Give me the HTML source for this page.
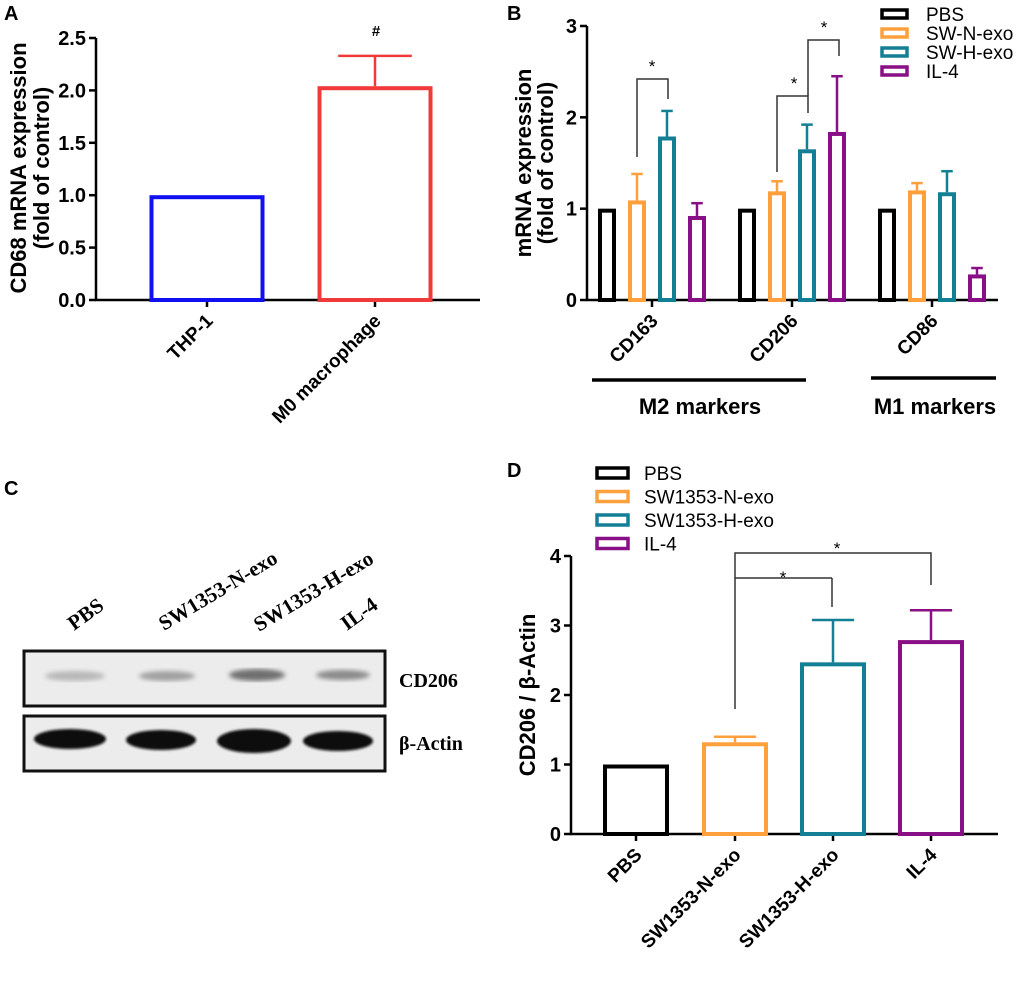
<!DOCTYPE html>
<html><head><meta charset="utf-8"><style>
html,body{margin:0;padding:0;background:#fff;}
svg{display:block;font-family:"Liberation Sans",Arial,sans-serif;}
.tk{font-weight:bold;font-size:20px;}
.xk{font-weight:bold;font-size:19px;}
.ti{font-weight:bold;font-size:22px;}
.pl{font-weight:bold;font-size:20px;}
.lg{font-size:19px;}
.sf{font-family:"Liberation Serif",serif;font-weight:bold;}
</style></head><body>
<svg id="fig" width="1020" height="982" viewBox="0 0 1020 982" xmlns="http://www.w3.org/2000/svg">
<defs>
<filter id="blur1"><feGaussianBlur stdDeviation="2.5"/></filter>
<filter id="blur2"><feGaussianBlur stdDeviation="1.2"/></filter>
</defs>
<text class="pl" x="4" y="20">A</text>
<text class="pl" x="507" y="20">B</text>
<text class="pl" x="4" y="495">C</text>
<text class="pl" x="507" y="477">D</text>

<g id="pa"></g>
<g id="pb"></g>
<g id="pd"></g>

<g>
  <text class="sf" font-size="21" transform="translate(74,631) rotate(-36)">PBS</text>
  <text class="sf" font-size="21" transform="translate(164,631) rotate(-31)">SW1353-N-exo</text>
  <text class="sf" font-size="21" transform="translate(259,632) rotate(-31)">SW1353-H-exo</text>
  <text class="sf" font-size="21" transform="translate(347,631) rotate(-36)">IL-4</text>
  <rect x="24" y="651" width="361" height="55" fill="#ececec" stroke="#111" stroke-width="3"/>
  <g filter="url(#blur1)">
    <ellipse cx="75" cy="676" rx="30" ry="5" fill="#b8b8b8"/>
    <ellipse cx="167" cy="676" rx="28" ry="5" fill="#a0a0a0"/>
    <ellipse cx="257" cy="675" rx="28" ry="6" fill="#707070"/>
    <ellipse cx="343" cy="675" rx="27" ry="5" fill="#8a8a8a"/>
  </g>
  <rect x="24" y="716" width="361" height="55" fill="#ececec" stroke="#111" stroke-width="3"/>
  <g filter="url(#blur2)">
    <ellipse cx="70" cy="739" rx="36" ry="10" fill="#111"/>
    <ellipse cx="161" cy="740" rx="35" ry="10" fill="#111"/>
    <ellipse cx="254" cy="741" rx="37" ry="12" fill="#111"/>
    <ellipse cx="338" cy="741" rx="35" ry="10" fill="#111"/>
  </g>
  <text class="sf" font-size="20" x="399" y="687">CD206</text>
  <text class="sf" font-size="20" x="399" y="750">β-Actin</text>
</g>
</svg>
<script>
// ---------- Panel A data ----------
const aCategories = ["THP-1", "M0 macrophage"];
const aValues = [1.0, 2.04];
const aErrors = [0, 0.29];
const aTicks = ["0.0","0.5","1.0","1.5","2.0","2.5"];
// ---------- Panel B data ----------
const bGroups = ["CD163", "CD206", "CD86"];
const bSeries = ["PBS", "SW-N-exo", "SW-H-exo", "IL-4"];
const bPBS = [1, 1, 1];
const bNexo = [1.09, 1.19, 1.2];
const bHexo = [1.79, 1.65, 1.18];
const bIL4 = [0.92, 1.84, 0.28];
const bErrPBS = [0, 0, 0];
const bErrNexo = [0.29, 0.11, 0.08];
const bErrHexo = [0.28, 0.27, 0.23];
const bErrIL4 = [0.14, 0.61, 0.07];
const bTicks = ["0","1","2","3"];
// ---------- Panel D data ----------
const dCategories = ["PBS", "SW1353-N-exo", "SW1353-H-exo", "IL-4"];
const dValues = [1.0, 1.32, 2.47, 2.79];
const dErrors = [0, 0.08, 0.61, 0.43];
const dTicks = ["0","1","2","3","4"];

const colors = ["#000000", "#ffa03c", "#137f95", "#880f85"];
const NS = "http://www.w3.org/2000/svg";
function mk(parent, tag, attrs, text) {
  const e = document.createElementNS(NS, tag);
  for (const k in attrs) e.setAttribute(k, attrs[k]);
  if (text !== undefined) e.textContent = text;
  parent.appendChild(e);
  return e;
}
function line(p, x1, y1, x2, y2, w, c) {
  return mk(p, "line", {x1, y1, x2, y2, stroke: c || "#000", "stroke-width": w || 2});
}
function barWithErr(p, x0, w, yTop, yBase, yErr, color, name) {
  const r = mk(p, "rect", {x: x0 + 2, y: yTop + 2, width: w - 4, height: Math.max(0, yBase - yTop - 2), fill: "#fff", stroke: color, "stroke-width": 4});
  
  
  if (yErr < yTop - 1) {
    const cx = x0 + w / 2;
    line(p, cx, yTop, cx, yErr, 2.5, color);
    line(p, cx - w * 0.32, yErr, cx + w * 0.32, yErr, 2.5, color);
  }
}
function bracket(p, x1, x2, y, y1end, y2end) {
  mk(p, "polyline", {points: `${x1},${y1end} ${x1},${y} ${x2},${y} ${x2},${y2end}`, fill: "none", stroke: "#333", "stroke-width": 1.5});
}

// ---------- Panel A ----------
(function () {
  const g = document.getElementById("pa");
  const x0 = 96, y0 = 300, y1 = 38, vmax = 2.5;
  const yS = v => y0 - (v / vmax) * (y0 - y1);
  const centers = [207, 375], bw = 115;
  line(g, x0, y0 + 1, x0, y1, 2.5);
  line(g, x0 - 1, y0, 480, y0, 2.5);
  aTicks.forEach(t => {
    const y = yS(parseFloat(t));
    line(g, x0 - 7, y, x0, y, 2.5);
    const tx = mk(g, "text", {x: x0 - 10, y: y + 7, "text-anchor": "end", class: "tk"}, t);
    
    
  });
  aCategories.forEach((c, i) => {
    const cx = centers[i];
    line(g, cx, y0, cx, y0 + 7, 2.5);
    barWithErr(g, cx - bw / 2, bw, yS(aValues[i]), y0, yS(aValues[i] + aErrors[i]), i === 0 ? "#1010f0" : "#f03a3a", "bar-" + (i === 0 ? "thp1" : "m0"));
    const tx = mk(g, "text", {transform: `translate(${cx + 7},${y0 + 22}) rotate(-45)`, "text-anchor": "end", class: "xk"}, c);
    
    
  });
  const h = mk(g, "text", {x: 376, y: 36, "text-anchor": "middle", "font-size": "15", "font-weight": "bold"}, "#");
  
  
  const t1 = mk(g, "text", {transform: "translate(26,168) rotate(-90)", "text-anchor": "middle", class: "ti"}, "CD68 mRNA expression");
  
  
  const t2 = mk(g, "text", {transform: "translate(49,168) rotate(-90)", "text-anchor": "middle", class: "ti"}, "(fold of control)");
  
  
})();

// ---------- Panel B ----------
(function () {
  const g = document.getElementById("pb");
  const x0 = 587, y0 = 300, y1 = 26, vmax = 3;
  const yS = v => y0 - (v / vmax) * (y0 - y1);
  const gc = [652, 792, 932], bw = 18, step = 30;
  line(g, x0, y0 + 1, x0, y1, 2.5);
  line(g, x0 - 1, y0, 998, y0, 2.5);
  bTicks.forEach(t => {
    const y = yS(parseFloat(t));
    line(g, x0 - 7, y, x0, y, 2.5);
    const tx = mk(g, "text", {x: x0 - 10, y: y + 7, "text-anchor": "end", class: "tk"}, t);
    
    
  });
  const vals = [bPBS, bNexo, bHexo, bIL4], errs = [bErrPBS, bErrNexo, bErrHexo, bErrIL4];
  bGroups.forEach((grp, gi) => {
    const cx = gc[gi];
    line(g, cx, y0, cx, y0 + 7, 2.5);
    for (let s = 0; s < 4; s++) {
      const bx = cx + (s - 1.5) * step;
      barWithErr(g, bx - bw / 2, bw, yS(vals[s][gi]), y0, yS(vals[s][gi] + errs[s][gi]), colors[s], "bar-" + grp.toLowerCase() + "-" + bSeries[s].toLowerCase());
    }
    const tx = mk(g, "text", {transform: `translate(${cx + 7},${y0 + 22}) rotate(-45)`, "text-anchor": "end", class: "xk", "font-size": "20"}, grp);
    
    
  });
  bracket(g, 637, 668, 79, 157, 99);
  bracket(g, 777, 808, 96, 172, 113);
  bracket(g, 808, 839, 40, 96, 56);
  [[652, 72], [794, 89], [824, 33]].forEach(p => {
    const s = mk(g, "text", {x: p[0], y: p[1], "text-anchor": "middle", "font-size": "17"}, "*");
    
    
  });
  line(g, 592, 380, 806, 380, 3.5);
  line(g, 871, 378, 996, 378, 3.5);
  const m2 = mk(g, "text", {x: 700, y: 414, "text-anchor": "middle", class: "ti", "font-size": "23"}, "M2 markers");
  
  
  const m1 = mk(g, "text", {x: 935, y: 414, "text-anchor": "middle", class: "ti", "font-size": "23"}, "M1 markers");
  
  
  const t1 = mk(g, "text", {transform: "translate(531,163) rotate(-90)", "text-anchor": "middle", class: "ti"}, "mRNA expression");
  
  
  const t2 = mk(g, "text", {transform: "translate(553,163) rotate(-90)", "text-anchor": "middle", class: "ti"}, "(fold of control)");
  
  
  bSeries.forEach((s, i) => {
    const y = 14 + i * 19;
    const r = mk(g, "rect", {x: 882, y: y - 4, width: 25, height: 8, fill: "#fff", stroke: colors[i], "stroke-width": 3.5});
    
    
    const t = mk(g, "text", {x: 926, y: y + 7, class: "lg"}, s);
    
    
  });
})();

// ---------- Panel D ----------
(function () {
  const g = document.getElementById("pd");
  const x0 = 571, y0 = 834, y1 = 556, vmax = 4;
  const yS = v => y0 - (v / vmax) * (y0 - y1);
  const centers = [636, 735, 833, 931], bw = 66;
  line(g, x0, y0 + 1, x0, y1, 2.5);
  line(g, x0 - 1, y0, 998, y0, 2.5);
  dTicks.forEach(t => {
    const y = yS(parseFloat(t));
    line(g, x0 - 7, y, x0, y, 2.5);
    const tx = mk(g, "text", {x: x0 - 10, y: y + 7, "text-anchor": "end", class: "tk"}, t);
    
    
  });
  dCategories.forEach((c, i) => {
    const cx = centers[i];
    line(g, cx, y0, cx, y0 + 7, 2.5);
    barWithErr(g, cx - bw / 2, bw, yS(dValues[i]), y0, yS(dValues[i] + dErrors[i]), colors[i], "bar-" + c.toLowerCase());
    const tx = mk(g, "text", {transform: `translate(${cx + 7},${y0 + 22}) rotate(-45)`, "text-anchor": "end", class: "xk", "font-size": "20"}, c);
    
    
  });
  bracket(g, 735, 931, 553, 709, 585);
  line(g, 735, 578, 832, 578, 1.5, "#333");
  line(g, 832, 578, 832, 607, 1.5, "#333");
  [[783, 583], [837, 554]].forEach(p => {
    const s = mk(g, "text", {x: p[0], y: p[1], "text-anchor": "middle", "font-size": "17"}, "*");
    
    
  });
  const t1 = mk(g, "text", {transform: "translate(535,695) rotate(-90)", "text-anchor": "middle", class: "ti", "font-size": "24"}, "CD206 / β-Actin");
  
  
  dCategories.forEach((s, i) => {
    const y = 473 + i * 23.5;
    const r = mk(g, "rect", {x: 597, y: y - 5, width: 31, height: 10, fill: "#fff", stroke: colors[i], "stroke-width": 3.5});
    
    
    const t = mk(g, "text", {x: 644, y: y + 7, class: "lg", "font-size": "20"}, s);
    
    
  });
})();
</script>
</body></html>
